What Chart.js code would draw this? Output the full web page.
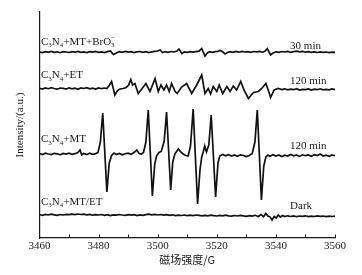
<!DOCTYPE html>
<html>
<head>
<meta charset="utf-8">
<script src="https://cdn.jsdelivr.net/npm/chart.js@4/dist/chart.umd.min.js"></script>
<style>
  html, body { margin: 0; padding: 0; background: #fff; }
</style>
</head>
<body>
<canvas id="epr" width="362" height="275"></canvas>
<script>
// sample names (_ = subscript, ^ = superscript stacked on last subscript)
const sampleNames = ['C_3N_4+MT+BrO_3^−', 'C_3N_4+ET', 'C_3N_4+MT', 'C_3N_4+MT/ET'];
const sampleTimes = ['30 min', '120 min', '120 min', 'Dark'];
// vertical stacking offset of each spectrum (a.u.)
const offsets = [186, 149.5, 84, 23];
const fieldTicks = [3460, 3480, 3500, 3520, 3540, 3560];

// C3N4+MT+BrO3-
const broField = [3460,3461,3462,3463,3464,3465,3466,3467,3468,3469,3470,3471,3472,3473,3474,3475,3476,3477,3478,3479,
  3480,3481,3482,3483,3484,3485,3486,3487,3488,3489,3490,3491,3492,3493,3494,3495,3496,3497,3498,3499,
  3500,3500.8,3501.6,3502.5,3503.5,3504.5,3505.5,3506.5,3507.2,3508.2,3509,3510,3511,3512,3513,3514,3514.9,3516,3516.8,3517.6,
  3518.5,3519.5,3520.3,3521.1,3522,3522.8,3523.6,3524.5,3525.5,3526.5,3527.5,3528.5,3529.5,3530.5,3531.5,3532.5,3533.5,3534.5,3535.5,3536.3,
  3537.1,3538.2,3539,3540,3541,3542,3543,3544,3545,3546,3547,3548,3549,3550,3551,3552,3553,3554,3555,3556,3557,3558,3559,3560];
const broSignal = [0,-0.6,0.4,-0.3,0.5,-0.4,0.2,-0.7,0.3,0,-0.5,0.4,-0.2,0.6,-0.4,0.1,-0.6,0.3,-0.2,0.5,
  -0.3,0.2,-0.5,0.4,1,-2.5,-1,0.3,-0.4,0.5,-0.2,0.3,-0.6,0.2,0.5,-0.3,0.4,-0.5,0.2,0.6,
  1,2,-0.5,0.3,-0.4,0.5,0,1,3,-1.5,0.2,-0.3,0.4,-0.2,0.3,0.8,3.5,-4,-1,0.4,
  -0.3,0.3,0.5,1.5,0.2,-2,-0.5,0.4,-0.3,0.5,-0.2,0.6,0,0.4,-0.3,0.5,0.1,0.6,-0.2,0.8,
  3.3,-3,-1,0.2,-0.4,0.5,0,0.6,-0.3,0.4,0.8,0.1,0.6,-0.2,0.4,-0.3,0.2,-0.5,0.1,-0.4,0,-0.6,-0.1,-0.4];

// C3N4+ET
const etField = [3460,3461,3462,3463,3464,3465,3466,3467,3468,3469,3470,3471,3472,3473,3474,3475,3476,3477,3478,3479,
  3480,3481,3482,3482.8,3483.6,3484.4,3485.5,3486.4,3487.2,3488.4,3489.3,3490.1,3490.9,3491.5,3492.3,3493.4,3494.6,3496,3497.4,3499.1,
  3500.2,3501.1,3502.1,3503,3503.9,3504.7,3505.9,3506.6,3508.1,3509.8,3511.5,3513.2,3514.9,3516,3517.1,3517.9,3518.8,3520,3520.8,3522,
  3523.4,3524.5,3525.6,3526.7,3528.1,3529.2,3530.7,3532.4,3534,3535.2,3536.6,3537.4,3538.2,3539.4,3540.8,3542,3543,3544,3545,3546,
  3547,3548,3549,3550,3551,3552,3553,3554,3555,3556,3557,3558,3559,3560];
const etSignal = [0.3,-0.5,0.6,-0.2,0.8,0,-0.7,0.5,0.2,-0.6,0.7,-0.3,0.4,-0.8,0.5,0,0.8,-0.4,0.3,-0.6,
  0.6,-0.2,0.5,0,3,7,-6.5,-2,-0.5,0,1,3,9,3.5,5,-5,-0.5,5,-3,10,
  -3,3.5,-1.5,3.5,-3,5,-3,-5,1.5,5,-5,3.5,13.5,-5,0,-5.5,2,-3,3.5,-5,
  2,-3,2.5,-1.5,7,-1.5,-10,-4,-3,0,5,-1.5,-9,-1.5,0,-1,-0.3,-1.4,-0.6,-1.2,
  -0.2,-1.5,-0.8,-1.1,-0.4,-1.6,-0.7,-1.2,-0.3,-1.4,-0.9,-1.3,-0.5,-1.2];

// C3N4+MT
const mtField = [3460,3461,3462,3463,3464,3465,3466,3467,3468,3469,3470,3471,3472,3473,3473.7,3474.3,3475,3476,3477,3478,
  3479,3479.8,3480.6,3481.4,3482.8,3483.6,3484.4,3485.2,3486,3487,3488,3489,3490,3491,3492,3492.9,3493.7,3494.5,3495.2,3496,
  3496.8,3498.2,3499,3499.6,3500.4,3501.2,3502.2,3503,3504.4,3505.1,3505.8,3506.5,3507,3507.8,3508.6,3509.5,3510.3,3511.1,3512,3513.5,
  3514.3,3514.9,3515.4,3515.9,3516.5,3517.3,3518.1,3519.6,3520.4,3521,3522,3523,3524,3525,3526,3527,3528,3529,3530,3531,
  3532,3532.9,3533.7,3535.1,3535.9,3536.6,3537.3,3538,3539,3540,3541,3542,3543,3544,3545,3546,3547,3548,3549,3550,
  3551,3552,3553,3554,3555,3556,3557,3558,3559,3560];
const mtSignal = [0.5,-0.5,0.8,0,-0.6,0.7,0.2,-0.8,0.6,0,0.9,-0.4,0.3,1.5,4,-1,0.5,-0.5,0.8,-0.3,
  0.4,1.5,12,41,-38,-9,-1.5,1,-0.5,0.6,-0.8,0.3,0.9,-0.2,1.5,4,0.5,0,1.5,12,
  44,-42,-10,-2,1.5,2.5,13,42,-36,-8,0,3,5,2,0,-1.5,-2,8,45,-50,
  -16,-3,2,8,2,9,39,-43,-9,-2,-0.5,-1.8,-0.6,-2,-1,-2.2,-0.8,-1.5,-2.5,-1.5,
  0.5,12,44,-46,-12,-3,-1,-2.2,-0.8,-2,-1,-2.5,-1.2,-2,-0.5,-1.8,-1,-2.4,-0.8,-1.7,
  -1,-2.2,-0.6,-1.5,0,-2,-1.2,-2.3,-1,-1.8];

// C3N4+MT/ET, dark
const darkField = [3460,3461,3462,3463,3464,3465,3466,3467,3468,3469,3470,3471,3472,3473,3474,3475,3476,3477,3478,3479,
  3480,3481,3482,3483,3484,3485,3486,3487,3488,3489,3490,3491,3492,3493,3494,3495,3496,3497,3498,3499,
  3500,3501,3502,3503,3504,3505,3506,3507,3508,3509,3510,3511,3512,3513,3514,3515,3516,3517,3518,3519,
  3520,3521,3522,3523,3524,3525,3526,3527,3528,3529,3530,3531,3532,3533,3534,3535,3535.8,3536.6,3537.3,3538,
  3538.7,3539.4,3540.1,3540.8,3541.5,3542.3,3543,3544,3545,3546,3547,3548,3549,3550,3551,3552,3553,3554,3555,3556,
  3557,3558,3559,3560];
const darkSignal = [0.5,-0.3,0.6,0,0.8,0.2,-0.4,0.5,0,0.7,0.3,0.9,0.4,1,0.5,0.8,0.2,0.6,-0.2,0.4,
  0,0.5,-0.3,0.3,-0.5,0.2,-0.2,0.5,0,-0.4,0.3,-0.2,0.4,-0.5,0.1,-0.3,0.4,0.8,0.2,0.6,
  0,0.5,-0.2,0.3,-0.4,0.2,-0.6,-0.1,-0.5,0,-0.7,-0.2,-0.6,0,-0.4,-0.9,-0.3,-0.8,-0.2,-0.7,
  -1,-0.4,-0.9,-0.2,-0.8,-1.2,-0.5,-1,-0.3,-0.9,-1.4,-0.6,-1.1,-0.3,-1.5,0.5,-1.8,1.5,-1,-2,
  -5,-1.5,-3,0,-2,-0.5,-1.6,-0.8,-1.5,-0.9,-1.7,-1,-1.4,-0.8,-1.6,-1.1,-1.5,-0.9,-1.3,-1,
  -1.6,-1.2,-1.5,-1.1];

const fields = [broField, etField, mtField, darkField];
const signals = [broSignal, etSignal, mtSignal, darkSignal];

const serif = '"Liberation Serif", "Times New Roman", serif';
const ink = '#1a1a1a';

const datasets = signals.map((s, i) => ({
  label: sampleNames[i],
  data: s.map((v, j) => ({ x: fields[i][j], y: offsets[i] + v })),
  borderColor: '#111',
  borderWidth: 1.7,
  pointRadius: 0,
  tension: 0,
  fill: false
}));

// text with sub/superscripts, e.g. C_3N_4
function drawRich(ctx, str, x, y) {
  let cx = x, subX = null;
  for (let i = 0; i < str.length; i++) {
    const ch = str[i];
    if (ch === '_') {
      ctx.font = '7px ' + serif;
      ctx.fillText(str[i + 1], cx, y + 2.5);
      subX = cx;
      cx += ctx.measureText(str[i + 1]).width;
      i++;
    } else if (ch === '^') {
      ctx.font = '7px ' + serif;
      ctx.fillText(str[i + 1], subX !== null ? subX : cx, y - 5);
      i++;
    } else {
      ctx.font = '11px ' + serif;
      ctx.fillText(ch, cx, y);
      cx += ctx.measureText(ch).width;
    }
  }
}

const nameLift = [7.5, 10.5, 12, 10.5];
const timeLift = [3.5, 5, 5, 6];

const annotations = {
  id: 'annotations',
  afterDatasetsDraw(chart) {
    const { ctx, scales: { x, y } } = chart;
    ctx.save();
    // inward minor ticks every 10 G
    ctx.strokeStyle = ink;
    ctx.lineWidth = 1;
    for (let g = 3470; g <= 3560; g += 10) {
      const px = Math.round(x.getPixelForValue(g)) + 0.5;
      ctx.beginPath();
      ctx.moveTo(px, y.bottom);
      ctx.lineTo(px, y.bottom - 3.5);
      ctx.stroke();
    }
    ctx.fillStyle = ink;
    ctx.textBaseline = 'alphabetic';
    ctx.textAlign = 'left';
    sampleNames.forEach((name, i) => {
      drawRich(ctx, name, x.getPixelForValue(3460.5), y.getPixelForValue(offsets[i] + nameLift[i]));
    });
    ctx.font = '11px ' + serif;
    sampleTimes.forEach((t, i) => {
      ctx.fillText(t, x.getPixelForValue(3544.8), y.getPixelForValue(offsets[i] + timeLift[i]));
    });
    ctx.restore();
  }
};

new Chart(document.getElementById('epr'), {
  type: 'line',
  data: { datasets },
  options: {
    responsive: false,
    animation: false,
    layout: { padding: { top: 12, right: 27, bottom: 0, left: 0 } },
    plugins: { legend: { display: false }, tooltip: { enabled: false } },
    scales: {
      x: {
        type: 'linear',
        min: 3460,
        max: 3560,
        afterBuildTicks(scale) { scale.ticks = fieldTicks.map(v => ({ value: v })); },
        ticks: {
          color: ink,
          font: { family: serif, size: 11 },
          padding: 1.5,
          maxRotation: 0,
          callback: v => String(v)
        },
        grid: { drawOnChartArea: false, drawTicks: false },
        border: { color: ink, width: 1.2 },
        title: {
          display: true,
          text: '磁场强度/G',
          color: ink,
          font: { family: '"Noto Sans CJK SC", sans-serif', size: 11 },
          padding: { top: 0, bottom: 8.4 }
        },
        afterFit(scale) { scale.height = 37; }
      },
      y: {
        min: 0,
        max: 226,
        ticks: { display: false },
        grid: { drawOnChartArea: false, drawTicks: false },
        border: { color: ink, width: 1.2 },
        title: {
          display: true,
          text: 'Intensity/(a.u.)',
          color: ink,
          font: { family: serif, size: 11 },
          padding: { top: 13.4, bottom: 0 }
        },
        afterFit(scale) { scale.width = 39.5; }
      }
    }
  },
  plugins: [annotations]
});
</script>
</body>
</html>
